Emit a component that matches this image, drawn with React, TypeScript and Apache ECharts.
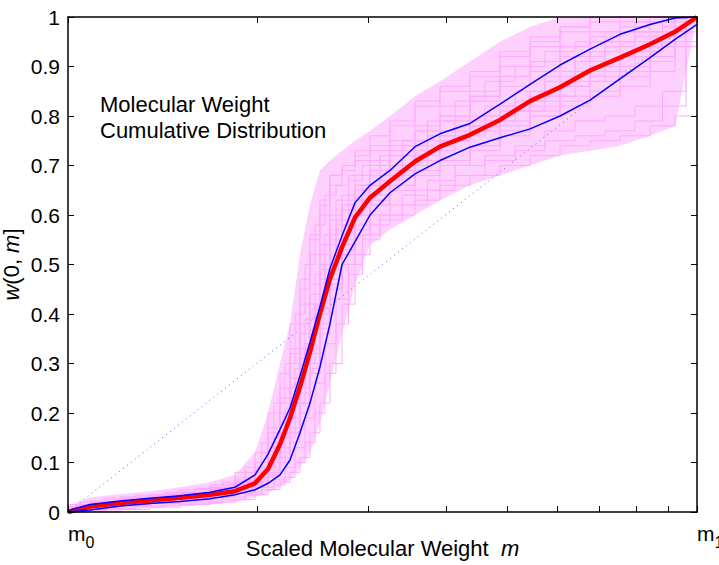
import { useEffect, useRef } from 'react';
import * as echarts from 'echarts';

// x positions (scaled molecular weight, log axis from m0 = 1 to m1 = 10)
const mGrid = [1, 1.084, 1.21, 1.35, 1.507, 1.682, 1.843, 1.983, 2.08, 2.173, 2.254, 2.338, 2.425, 2.515, 2.609, 2.727, 2.86, 3.021, 3.25, 3.562, 3.903, 4.356, 4.862, 5.427, 6.057, 6.76, 7.544, 8.42, 9.226, 10];

const meanW = [0, 0.011, 0.018, 0.023, 0.029, 0.035, 0.042, 0.058, 0.087, 0.137, 0.19, 0.253, 0.323, 0.4, 0.471, 0.535, 0.595, 0.635, 0.668, 0.708, 0.738, 0.762, 0.792, 0.83, 0.858, 0.892, 0.918, 0.945, 0.97, 1];
const upperW = [0.003, 0.015, 0.022, 0.028, 0.033, 0.04, 0.05, 0.075, 0.117, 0.167, 0.21, 0.275, 0.343, 0.415, 0.492, 0.558, 0.625, 0.66, 0.69, 0.738, 0.764, 0.785, 0.824, 0.864, 0.903, 0.935, 0.965, 0.985, 0.998, 1];
const lowerW = [0, 0.004, 0.012, 0.017, 0.021, 0.027, 0.035, 0.045, 0.058, 0.075, 0.105, 0.16, 0.22, 0.293, 0.38, 0.5, 0.546, 0.6, 0.645, 0.683, 0.71, 0.737, 0.756, 0.774, 0.8, 0.832, 0.875, 0.918, 0.955, 0.985];

// envelope of the simulated realisations
const pinkMax = [0.012, 0.03, 0.036, 0.042, 0.05, 0.06, 0.075, 0.12, 0.2, 0.3, 0.38, 0.52, 0.62, 0.69, 0.71, 0.73, 0.75, 0.77, 0.8, 0.84, 0.87, 0.91, 0.95, 0.98, 1, 1, 1, 1, 1, 1];
const pinkMin = [0, 0, 0.003, 0.008, 0.012, 0.015, 0.02, 0.03, 0.04, 0.05, 0.065, 0.09, 0.12, 0.18, 0.26, 0.36, 0.46, 0.54, 0.57, 0.6, 0.63, 0.66, 0.68, 0.7, 0.72, 0.73, 0.74, 0.76, 0.78, 1];

// individual realisations (step curves)
const run01 = [0, 0.02, 0.03, 0.035, 0.04, 0.05, 0.06, 0.1, 0.17, 0.25, 0.33, 0.45, 0.55, 0.62, 0.68, 0.7, 0.72, 0.74, 0.78, 0.82, 0.85, 0.88, 0.92, 0.95, 0.98, 1, 1, 1, 1, 1];
const run02 = [0, 0.01, 0.02, 0.03, 0.035, 0.045, 0.055, 0.08, 0.12, 0.2, 0.28, 0.38, 0.47, 0.56, 0.63, 0.68, 0.7, 0.73, 0.76, 0.79, 0.83, 0.86, 0.89, 0.93, 0.96, 0.98, 1, 1, 1, 1];
const run03 = [0, 0.005, 0.012, 0.02, 0.025, 0.03, 0.04, 0.055, 0.07, 0.1, 0.15, 0.22, 0.3, 0.4, 0.5, 0.58, 0.63, 0.66, 0.7, 0.73, 0.76, 0.79, 0.82, 0.85, 0.88, 0.92, 0.95, 0.97, 0.99, 1];
const run04 = [0, 0, 0.005, 0.01, 0.015, 0.02, 0.025, 0.035, 0.045, 0.06, 0.08, 0.11, 0.16, 0.22, 0.3, 0.42, 0.52, 0.58, 0.6, 0.63, 0.66, 0.68, 0.7, 0.72, 0.74, 0.75, 0.76, 0.78, 0.8, 1];
const run05 = [0, 0.015, 0.022, 0.028, 0.032, 0.038, 0.05, 0.07, 0.1, 0.16, 0.22, 0.3, 0.38, 0.46, 0.54, 0.6, 0.64, 0.68, 0.71, 0.74, 0.77, 0.8, 0.84, 0.88, 0.91, 0.94, 0.96, 0.98, 1, 1];
const run06 = [0, 0.008, 0.016, 0.022, 0.03, 0.036, 0.045, 0.065, 0.09, 0.13, 0.19, 0.26, 0.34, 0.42, 0.5, 0.56, 0.6, 0.64, 0.67, 0.7, 0.73, 0.76, 0.79, 0.81, 0.84, 0.87, 0.9, 0.93, 0.96, 1];
const run07 = [0, 0.012, 0.02, 0.026, 0.033, 0.042, 0.05, 0.065, 0.085, 0.12, 0.17, 0.24, 0.32, 0.4, 0.47, 0.53, 0.58, 0.62, 0.66, 0.71, 0.75, 0.78, 0.81, 0.84, 0.86, 0.88, 0.9, 0.92, 0.95, 1];
const run08 = [0, 0.003, 0.01, 0.016, 0.02, 0.026, 0.034, 0.05, 0.06, 0.08, 0.11, 0.16, 0.22, 0.3, 0.38, 0.46, 0.54, 0.6, 0.64, 0.68, 0.72, 0.75, 0.77, 0.79, 0.81, 0.83, 0.85, 0.88, 0.92, 1];
const run09 = [0, 0.02, 0.028, 0.034, 0.04, 0.048, 0.06, 0.09, 0.14, 0.22, 0.3, 0.4, 0.5, 0.58, 0.64, 0.66, 0.68, 0.7, 0.72, 0.75, 0.79, 0.83, 0.87, 0.9, 0.93, 0.95, 0.97, 0.99, 1, 1];
const run10 = [0, 0.006, 0.014, 0.018, 0.024, 0.03, 0.038, 0.05, 0.075, 0.11, 0.16, 0.22, 0.29, 0.37, 0.45, 0.52, 0.57, 0.62, 0.65, 0.68, 0.71, 0.73, 0.76, 0.8, 0.84, 0.87, 0.89, 0.91, 0.94, 1];
const run11 = [0, 0.01, 0.018, 0.025, 0.03, 0.035, 0.042, 0.06, 0.08, 0.14, 0.2, 0.27, 0.36, 0.44, 0.52, 0.59, 0.62, 0.65, 0.68, 0.72, 0.74, 0.77, 0.8, 0.82, 0.85, 0.89, 0.93, 0.95, 0.97, 1];
const run12 = [0, 0.002, 0.008, 0.012, 0.018, 0.022, 0.03, 0.04, 0.05, 0.065, 0.09, 0.13, 0.19, 0.26, 0.34, 0.43, 0.5, 0.56, 0.6, 0.64, 0.67, 0.7, 0.72, 0.74, 0.77, 0.79, 0.8, 0.82, 0.85, 1];
const run13 = [0, 0.018, 0.025, 0.03, 0.036, 0.044, 0.055, 0.075, 0.11, 0.18, 0.25, 0.33, 0.42, 0.5, 0.57, 0.62, 0.66, 0.69, 0.73, 0.77, 0.8, 0.84, 0.88, 0.91, 0.94, 0.97, 0.99, 1, 1, 1];
const run14 = [0, 0.004, 0.01, 0.014, 0.02, 0.028, 0.036, 0.045, 0.06, 0.09, 0.13, 0.19, 0.25, 0.33, 0.41, 0.49, 0.55, 0.6, 0.63, 0.66, 0.69, 0.71, 0.74, 0.77, 0.8, 0.82, 0.84, 0.86, 0.89, 1];
const run15 = [0, 0.014, 0.024, 0.03, 0.038, 0.046, 0.056, 0.08, 0.1, 0.15, 0.21, 0.29, 0.39, 0.48, 0.56, 0.63, 0.67, 0.7, 0.72, 0.74, 0.76, 0.78, 0.8, 0.83, 0.87, 0.91, 0.94, 0.96, 0.98, 1];
const run16 = [0, 0.007, 0.013, 0.02, 0.027, 0.033, 0.04, 0.055, 0.07, 0.1, 0.14, 0.2, 0.28, 0.36, 0.43, 0.5, 0.56, 0.6, 0.62, 0.65, 0.7, 0.74, 0.78, 0.82, 0.86, 0.9, 0.92, 0.94, 0.97, 1];
const run17 = [0, 0.009, 0.017, 0.023, 0.028, 0.034, 0.044, 0.06, 0.085, 0.13, 0.18, 0.25, 0.33, 0.41, 0.49, 0.55, 0.61, 0.66, 0.69, 0.72, 0.75, 0.79, 0.83, 0.86, 0.89, 0.92, 0.95, 0.97, 0.99, 1];
const run18 = [0, 0.001, 0.006, 0.01, 0.014, 0.018, 0.025, 0.035, 0.045, 0.055, 0.07, 0.1, 0.14, 0.2, 0.28, 0.38, 0.48, 0.55, 0.59, 0.62, 0.65, 0.68, 0.71, 0.73, 0.75, 0.76, 0.77, 0.79, 0.82, 1];
const run19 = [0, 0.016, 0.026, 0.032, 0.038, 0.05, 0.065, 0.1, 0.15, 0.23, 0.32, 0.42, 0.52, 0.6, 0.66, 0.69, 0.71, 0.73, 0.75, 0.78, 0.82, 0.85, 0.9, 0.94, 0.97, 0.99, 1, 1, 1, 1];
const run20 = [0, 0.011, 0.019, 0.024, 0.031, 0.04, 0.048, 0.062, 0.08, 0.115, 0.16, 0.23, 0.31, 0.39, 0.47, 0.54, 0.59, 0.63, 0.66, 0.69, 0.72, 0.75, 0.78, 0.81, 0.83, 0.86, 0.89, 0.92, 0.95, 1];
const runs = [run01, run02, run03, run04, run05, run06, run07, run08, run09, run10, run11, run12, run13, run14, run15, run16, run17, run18, run19, run20];
const stepKinds = ['end', 'start', 'middle'];

const diagM = [1, 10];
const diagW = [0, 1];

const xTickValues = [1, 2, 3, 4, 5, 6, 7, 8, 9, 10];
const xLabelValues = [1, 10];
const xLabelTexts = ['{m|m}{s|0}', '{m|m}{s|1}'];

const FONT = "'Liberation Sans', Arial, Helvetica, sans-serif";

const pairs = (xs: number[], ys: number[]) => xs.map((x, i) => [x, ys[i]]);

export default function App() {
  const ref = useRef<HTMLDivElement>(null);
  useEffect(() => {
    if (!ref.current) return;
    const chart = echarts.init(ref.current, null, { renderer: 'svg' });
    const axisLine = { show: true, onZero: false, lineStyle: { color: '#000', width: 1.5 } };
    const tick = { show: true, inside: true, length: 6, lineStyle: { color: '#000', width: 1 } };
    const series: any[] = [];
    series.push({
      type: 'line', data: pairs(mGrid, pinkMax), symbol: 'none', silent: true, z: 1,
      lineStyle: { width: 0 }, areaStyle: { color: '#fdd0fd', opacity: 1 },
    });
    series.push({
      type: 'line', data: pairs(mGrid, pinkMin), symbol: 'none', silent: true, z: 1,
      lineStyle: { width: 0 }, areaStyle: { color: '#ffffff', opacity: 1 },
    });
    series.push({
      type: 'line', data: pairs(diagM, diagW), symbol: 'none', silent: true, z: 2,
      lineStyle: { color: '#5a5aff', width: 1, type: [1, 4] },
    });
    runs.forEach((w, k) => {
      series.push({
        type: 'line', data: pairs(mGrid, w), symbol: 'none', silent: true, z: 3,
        step: stepKinds[k % 3], lineStyle: { color: '#ffaaff', width: 1 },
      });
    });
    series.push({
      type: 'line', data: pairs(mGrid, meanW), symbol: 'none', silent: true, z: 4,
      lineStyle: { color: '#ff0000', width: 4.5 },
    });
    series.push({
      type: 'line', data: pairs(mGrid, upperW), symbol: 'none', silent: true, z: 5,
      lineStyle: { color: '#0000ff', width: 1.5 },
    });
    series.push({
      type: 'line', data: pairs(mGrid, lowerW), symbol: 'none', silent: true, z: 5,
      lineStyle: { color: '#0000ff', width: 1.5 },
    });

    chart.setOption({
      animation: false,
      backgroundColor: '#ffffff',
      grid: { left: 68, right: 22, top: 17, bottom: 53, containLabel: false, outerBoundsMode: 'none' },
      xAxis: [
        {
          type: 'log', logBase: 10, min: 1, max: 10, position: 'bottom', z: 10,
          axisLine, axisTick: { ...tick, customValues: xTickValues },
          splitLine: { show: false }, minorTick: { show: false },
          axisLabel: {
            customValues: xLabelValues,
            formatter: (v: number) => xLabelTexts[xLabelValues.indexOf(v)] ?? '',
            align: 'left', margin: 11, color: '#000',
            rich: {
              m: { fontSize: 21, fontFamily: FONT, color: '#000', lineHeight: 22, verticalAlign: 'top' },
              s: { fontSize: 16, fontFamily: FONT, color: '#000', lineHeight: 16, padding: [16, 0, 0, 0] },
            },
          },
          name: '{n|Scaled Molecular Weight  }{i|m}', nameLocation: 'middle', nameGap: 25,
          nameMoveOverlap: false,
          nameTextStyle: {
            fontSize: 22, fontFamily: FONT, color: '#000',
            rich: {
              n: { fontSize: 22, fontFamily: FONT, color: '#000' },
              i: { fontSize: 22, fontFamily: FONT, color: '#000', fontStyle: 'italic' },
            },
          },
        },
        {
          type: 'log', logBase: 10, min: 1, max: 10, position: 'top', z: 10,
          axisLine, axisTick: { ...tick, customValues: xTickValues },
          splitLine: { show: false }, axisLabel: { show: false },
        },
      ],
      yAxis: [
        {
          type: 'value', min: 0, max: 1, interval: 0.1, position: 'left', z: 10,
          axisLine, axisTick: tick, splitLine: { show: false },
          axisLabel: { fontSize: 21, fontFamily: FONT, color: '#000', margin: 8 },
          name: '{i|w}(0, {i|m}]', nameLocation: 'middle', nameGap: 46, nameRotate: 90,
          nameMoveOverlap: false,
          nameTextStyle: {
            fontSize: 22, fontFamily: FONT, color: '#000',
            rich: {
              n: { fontSize: 22, fontFamily: FONT, color: '#000' },
              i: { fontSize: 22, fontFamily: FONT, color: '#000', fontStyle: 'italic' },
            },
          },
        },
        {
          type: 'value', min: 0, max: 1, interval: 0.1, position: 'right', z: 10,
          axisLine, axisTick: tick, splitLine: { show: false }, axisLabel: { show: false },
        },
      ],
      graphic: [
        {
          type: 'text', left: 100, top: 91, z: 20,
          style: {
            text: 'Molecular Weight\nCumulative Distribution',
            fontSize: 22, fontFamily: FONT, fill: '#000', lineHeight: 26,
          },
        },
      ],
      series,
    });
    return () => chart.dispose();
  }, []);
  return <div ref={ref} style={{ position: 'absolute', left: 0, top: 0, width: 719, height: 565 }} />;
}
